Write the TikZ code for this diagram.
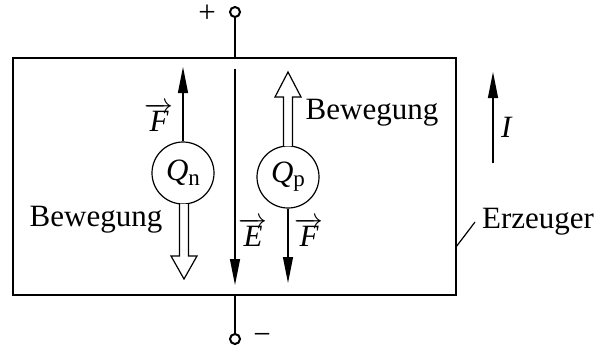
\documentclass[tikz,border=0pt]{standalone}
\usepackage{fontspec}
\setmainfont{Liberation Serif}
\usetikzlibrary{arrows.meta}
\newcommand{\vecsym}[1]{$\overrightarrow{\hbox{\itshape #1}}$}
\newcommand{\charge}[1]{\textit{Q}\raisebox{-0.3ex}{\fontsize{11.5}{12}\selectfont #1}}
\begin{document}
\begin{tikzpicture}[x=0.5pt, y=-0.5pt, every node/.style={font=\fontsize{15.5}{18}\selectfont},
  chargebox/.style={draw, circle, minimum size=31pt, inner sep=0pt, line width=0.6pt},
  terminal/.style={draw, circle, fill=white, minimum size=5pt, inner sep=0pt, line width=1pt},
  force/.style={-{Triangle[length=13pt, width=5pt]}, line width=0.6pt},
  hollow/.style={draw, line width=0.6pt, fill=white, line join=miter}]
  \useasboundingbox (0,0) rectangle (613,349);

  % generator box
  \node[draw, line width=1.2pt, minimum width=221.5pt, minimum height=118.5pt, inner sep=0pt] (gen) at (234.5,176.5) {};

  % terminals
  \node[terminal] (tplus) at (235,12) {};
  \node[terminal] (tminus) at (235,339) {};
  \draw[line width=1.2pt] (tplus) -- (tplus |- gen.north);
  \draw[line width=1.2pt] (tminus) -- (tminus |- gen.south);
  \node[inner sep=1pt] (plus) at (207,14) {+};
  \node[inner sep=1pt] (minus) at (262,339) {−};

  % field
  \coordinate (etop) at (235,69);
  \coordinate (ebot) at (235,285);
  \draw[force] (etop) -- (ebot);
  \node[inner sep=1pt] (elabel) at (253,232) {\vecsym{E}};

  % charges
  \node[chargebox] (qn) at (183,173) {\charge{n}};
  \node[chargebox] (qp) at (288,177) {\charge{p}};

  \coordinate (fntip) at (183,67);
  \draw[force] (qn) -- (fntip);
  \node[inner sep=1pt] (fnlabel) at (159,117) {\vecsym{F}};

  \coordinate (fptip) at (288,283);
  \draw[force] (qp) -- (fptip);
  \node[inner sep=1pt] (fplabel) at (309,232) {\vecsym{F}};

  % movement
  \draw[hollow] (179.5,204) -- (179.5,256) -- (171,256) -- (184,279)
    -- (197,256) -- (188.5,256) -- (188.5,204);
  \draw[hollow] (283.5,146) -- (283.5,97) -- (275,97) -- (288,72)
    -- (301,97) -- (292.5,97) -- (292.5,146);
  \node (bewn) at (96,220) {Bewegung};
  \node (bewp) at (372,113) {Bewegung};

  % current
  \coordinate (ifoot) at (493,163);
  \coordinate (itip) at (493,72);
  \draw[force] (ifoot) -- (itip);
  \node (ilabel) at (507,127) {\textit{I}};

  % label
  \coordinate (erzfoot) at (456,247);
  \node[anchor=west] (erz) at (475,222) {Erzeuger};
  \draw[line width=0.6pt] (erzfoot) -- (erz.west);
\end{tikzpicture}
\end{document}
